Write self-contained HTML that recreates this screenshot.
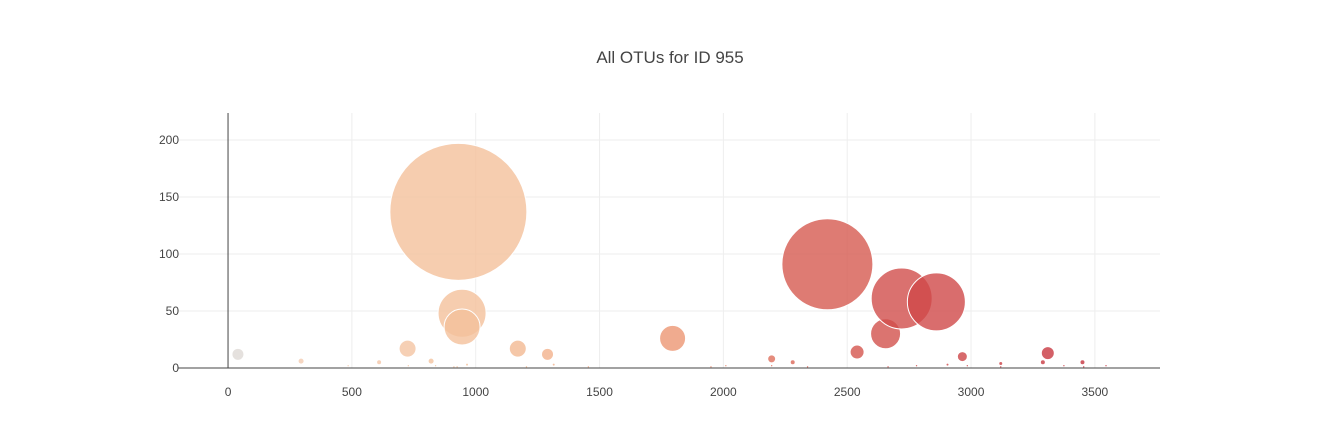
<!DOCTYPE html>
<html><head><meta charset="utf-8"><style>
body{margin:0;background:#fff;font-family:"Liberation Sans",sans-serif}
</style></head><body>
<svg id="c" width="1338" height="440" xmlns="http://www.w3.org/2000/svg">
<text x="670" y="63" text-anchor="middle" font-size="17" fill="#444">All OTUs for ID 955</text>
<g id="grid"></g><g id="bub"></g><g id="ax"></g>
</svg>
<script>
const otuIds=[40,295,485,610,725,728,820,838,912,925,930,945,945,965,1170,1205,1290,1315,1455,1795,1950,2010,2195,2195,2280,2340,2420,2540,2655,2665,2720,2780,2860,2905,2965,2985,3120,3120,3290,3310,3375,3450,3455,3545];
const sampleValues=[12,6,2,5,17,2,6,2,1,1,137,48,36,3,17,1,12,3,1,26,1,2,8,2,5,1,91,14,30,1,61,2,58,3,10,2,4,1,5,13,2,5,1,2];
const xTicks=[0,500,1000,1500,2000,2500,3000,3500];
const yTicks=[0,50,100,150,200];
const NS='http://www.w3.org/2000/svg';
const X0=178.5,X1=1160,xmin=-200,xmax=3763;
const xs=v=>X0+(v-xmin)/(xmax-xmin)*(X1-X0);
const ys=v=>368-v*1.14;
function mk(t,a,p){const e=document.createElementNS(NS,t);for(const k in a)e.setAttribute(k,a[k]);p.appendChild(e);return e;}
const G=document.getElementById('grid'),B=document.getElementById('bub'),A=document.getElementById('ax');
xTicks.forEach(t=>{
 if(t!==0){const l=mk('line',{x1:xs(t),x2:xs(t),y1:113,y2:368,stroke:'#eee'},G);
 
 }
 const tx=mk('text',{x:xs(t),y:396,'text-anchor':'middle','font-size':12,fill:'#444'},A);tx.textContent=t;
 
 
});
yTicks.forEach(t=>{
 if(t!==0){const l=mk('line',{x1:X0,x2:X1,y1:ys(t),y2:ys(t),stroke:'#eee'},G);
 
 }
 const tx=mk('text',{x:179,y:ys(t)+4,'text-anchor':'end','font-size':12,fill:'#444'},A);tx.textContent=t;
 
 
});
const xa=mk('line',{x1:X0,x2:X1,y1:368,y2:368,stroke:'#444'},A);


const ya=mk('line',{x1:xs(0),x2:xs(0),y1:113,y2:368,stroke:'#444'},A);


const stops=[[0,[220,220,220]],[0.08,[244,204,178]],[0.3,[244,190,150]],[0.5,[236,150,115]],[0.67,[214,90,80]],[1,[195,45,60]]];
function col(f){for(let i=1;i<stops.length;i++){if(f<=stops[i][0]){const [a,ca]=stops[i-1],[b,cb]=stops[i];const t=(f-a)/(b-a);return 'rgb('+ca.map((c,j)=>Math.round(c+(cb[j]-c)*t)).join(',')+')';}}return 'rgb(195,45,60)';}
otuIds.forEach((id,i)=>{
 const v=sampleValues[i];
 const c=mk('circle',{cx:xs(id),cy:ys(v),r:Math.max(v/2,1.2),fill:col(id/3600),'fill-opacity':0.8,stroke:'#fff','stroke-width':1},B);
 
 
});
</script>
</body></html>
